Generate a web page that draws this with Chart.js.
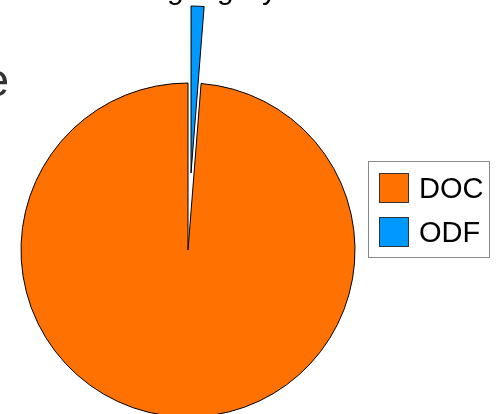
<!DOCTYPE html>
<html>
<head>
<meta charset="utf-8">
<script src="https://cdn.jsdelivr.net/npm/chart.js@4"></script>
<style>
  html, body { margin: 0; padding: 0; background: #fff; overflow: hidden; }
  #wrap { position: relative; width: 496px; height: 414px; }
</style>
</head>
<body>
<div id="wrap"><canvas id="pieChart" width="496" height="414"></canvas></div>
<script>
// chart data
var labels = ['DOC', 'ODF'];
var values = [98.75, 1.25];
var colors = ['#ff7100', '#0099ff'];
var explode = [0, 77];

// start DOC right after the ODF slice so ODF sits just right of 12 o'clock
var total = values[0] + values[1];
var startAngle = values[1] / total * 360;

// bits of slide text that are cut off at the edges
var textBits = function (ctx) {
    ctx.save();
    ctx.fillStyle = '#333';
    ctx.font = '46px "Liberation Sans", Arial, sans-serif';
    ctx.textAlign = 'right';
    ctx.textBaseline = 'alphabetic';
    ctx.fillText('e', 9, 96);
    ctx.fillStyle = '#000';
    ctx.font = '30px "Liberation Sans", Arial, sans-serif';
    ctx.textAlign = 'left';
    ctx.fillText('g', 167, -1);
    ctx.fillText('g', 217, -1);
    ctx.fillText('y', 262, -1);
    ctx.restore();
};

// pull slices straight out (chart.js offset also shrinks the wedge)
var explodeSlices = {
    id: 'explodeSlices',
    beforeDatasetDraw: function (chart, args) {
        args.meta.data.forEach(function (arc, i) {
            var dist = explode[i] || 0;
            if (!dist || arc._exploded) return;
            var origDraw = arc.draw;
            arc.draw = function (c) {
                var half = (this.startAngle + this.endAngle) / 2;
                c.save();
                c.translate(Math.cos(half) * dist, Math.sin(half) * dist);
                origDraw.call(this, c);
                c.restore();
            };
            arc._exploded = true;
        });
    }
};

// boxed legend like the office one
var boxLegend = {
    id: 'boxLegend',
    afterDraw: function (chart) {
        var ctx = chart.ctx;
        textBits(ctx);
        ctx.save();
        ctx.strokeStyle = '#888';
        ctx.lineWidth = 1;
        ctx.strokeRect(368.5, 161.5, 121, 96);
        ctx.font = '29px "Liberation Sans", Arial, sans-serif';
        ctx.textBaseline = 'alphabetic';
        labels.forEach(function (lab, i) {
            var y = 173 + i * 44;
            ctx.fillStyle = colors[i];
            ctx.fillRect(379, y, 30, 30);
            ctx.strokeStyle = '#333';
            ctx.strokeRect(379.5, y + 0.5, 29, 29);
            ctx.fillStyle = '#000';
            ctx.fillText(lab, 419, y + 25);
        });
        ctx.restore();
    }
};

var ctx = document.getElementById('pieChart').getContext('2d');
var pieChart = new Chart(ctx, {
    type: 'pie',
    data: {
        labels: labels,
        datasets: [{
            data: values,
            backgroundColor: colors,
            borderColor: '#000',
            borderWidth: 1,
            radius: 167,
            clip: false
        }]
    },
    options: {
        responsive: false,
        animation: false,
        rotation: startAngle,
        layout: { padding: { left: 0, right: 120, top: 86, bottom: 0 } },
        plugins: {
            legend: { display: false },
            tooltip: { enabled: false }
        }
    },
    plugins: [explodeSlices, boxLegend]
});
</script>
</body>
</html>
